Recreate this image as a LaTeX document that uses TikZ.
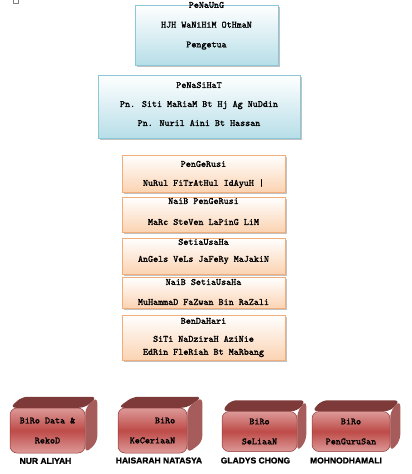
\documentclass[tikz,border=0pt]{standalone}
\usepackage{fontspec}
\setmainfont{Liberation Sans}
\newfontfamily\boxfont[AutoFakeBold=1.6]{Latin Modern Mono}
\newfontfamily\whofont[FakeBold=1.5]{Liberation Sans}
\usetikzlibrary{positioning,calc,shadows}
\definecolor{skyedge}{HTML}{8CC7D8}
\definecolor{skyfill}{HTML}{B7DEE8}
\definecolor{peachedge}{HTML}{F2AE7A}
\definecolor{peachfill}{HTML}{FBD3B2}
\definecolor{brick}{HTML}{BE4B48}
\definecolor{brickhi}{HTML}{DC9A98}
\definecolor{bricktop}{HTML}{7E3A38}
\definecolor{brickside}{HTML}{A65C5A}
\pgfdeclarelayer{back}
\pgfsetlayers{back,main}
\tikzset{
  card/.style={inner sep=0pt,line width=0.8pt,drop shadow={shadow xshift=1.5pt,shadow yshift=-1.5pt,fill=black!40,opacity=.6}},
  panel/.style={card,draw=skyedge,top color=white,bottom color=skyfill},
  crew/.style={card,draw=peachedge,top color=white,bottom color=peachfill,minimum width=163pt},
  txt/.style={font=\boxfont\bfseries\fontsize{9.6}{10}\selectfont,align=center,inner sep=0pt},
  biro/.style={txt,draw=brick!75!black,line width=.5pt,rounded corners=7pt,top color=brickhi,bottom color=brickhi,middle color=brick},
  who/.style={font=\whofont\bfseries\fontsize{8.5}{10}\selectfont,inner sep=0pt},
}

\begin{document}
\begin{tikzpicture}[x=1pt,y=-1pt]
  \useasboundingbox (0,0) rectangle (412,474);
  \draw[gray,line width=.6pt] (13,-3) rectangle (18,3);

  % penaung dan penasihat
  \node[panel,minimum width=143pt,minimum height=60pt] (penaung) at (206.5,35) {};
  \node[txt] (penaungtxt) at (206.5,25.75) {PeNaUnG\\[9.75pt]HJH WaNiHiM OtHmaN\\[9.75pt]Pengetua};
  \node[panel,minimum width=202pt,minimum height=63pt] (nasihat) at (199,106.5) {};
  \node[txt] (nasihattxt) at (199,104) {PeNaSiHaT\\[9pt]Pn. Siti MaRiaM Bt Hj Ag NuDdin\\[9pt]Pn. Nuril Aini Bt Hassan};

  % ahli jawatankuasa
  \node[crew,minimum height=37pt] (pengerusi) at (203.5,173.5) {};
  \node[txt] (pengerusitxt) at (203.5,174.5) {PenGeRusi\\[9pt]NuRul FiTrAtHul IdAyuH |};
  \node[crew,minimum height=35pt] (naibpengerusi) at (203.5,214.5) {};
  \node[txt] (naibpengerusitxt) at (203.5,211.5) {NaiB PenGeRusi\\[11pt]MaRc SteVen LaPinG LiM};
  \node[crew,minimum height=36pt] (setiausaha) at (203.5,256) {};
  \node[txt] (setiausahatxt) at (203.5,251.5) {SetiaUsaHa\\[7pt]AnGels VeLs JaFeRy MaJakiN};
  \node[crew,minimum height=31pt] (naibsetiausaha) at (203.5,293) {};
  \node[txt] (naibsetiausahatxt) at (203.5,292) {NaiB SetiaUsaHa\\[10pt]MuHammaD FaZwan Bin RaZali};
  \node[crew,minimum height=45pt] (bendahari) at (203.5,337.5) {};
  \node[txt] (bendaharitxt) at (203.5,337.5) {BenDaHari\\[8pt]SiTi NaDziraH AziNie\\[3pt]EdRin FleRiah Bt MaRbang};

  % biro
  \node[biro,minimum width=75pt,minimum height=45pt] (bdata) at (47.5,430.5) {BiRo Data \&\\[10pt]RekoD};
  \node[biro,minimum width=69pt,minimum height=45pt,align=left] (bceria) at (152.5,430.5) {\hphantom{XXXXX}BiRo\\[10pt]KeCeriaaN};
  \node[biro,minimum width=75pt,minimum height=40pt] (bselia) at (259.5,431.5) {BiRo\\[10pt]SeLiaaN};
  \node[biro,minimum width=78pt,minimum height=40pt] (bguru) at (351,431.5) {BiRo\\[10pt]PenGuruSan};
  \begin{pgfonlayer}{back}
    \foreach \b/\dx in {bdata/12,bceria/15,bselia/9,bguru/10}{
      \fill[bricktop,rounded corners=6pt] (\b.north west) -- ++(\dx,-11) -- ($(\b.north east)+(\dx,-11)$) -- (\b.north east) -- cycle;
      \fill[brickside,rounded corners=6pt] (\b.north east) -- ++(\dx,-11) -- ($(\b.south east)+(\dx,-11)$) -- (\b.south east) -- cycle;
    }
  \end{pgfonlayer}

  \node[who] (nur) at (45.5,461) {NUR ALIYAH};
  \node[who] (haisarah) at (159,460.5) {HAISARAH NATASYA};
  \node[who] (gladys) at (255.5,460.5) {GLADYS CHONG};
  \node[who] (mohno) at (346,460.5) {MOHNODHAMALI};
\end{tikzpicture}
\end{document}
